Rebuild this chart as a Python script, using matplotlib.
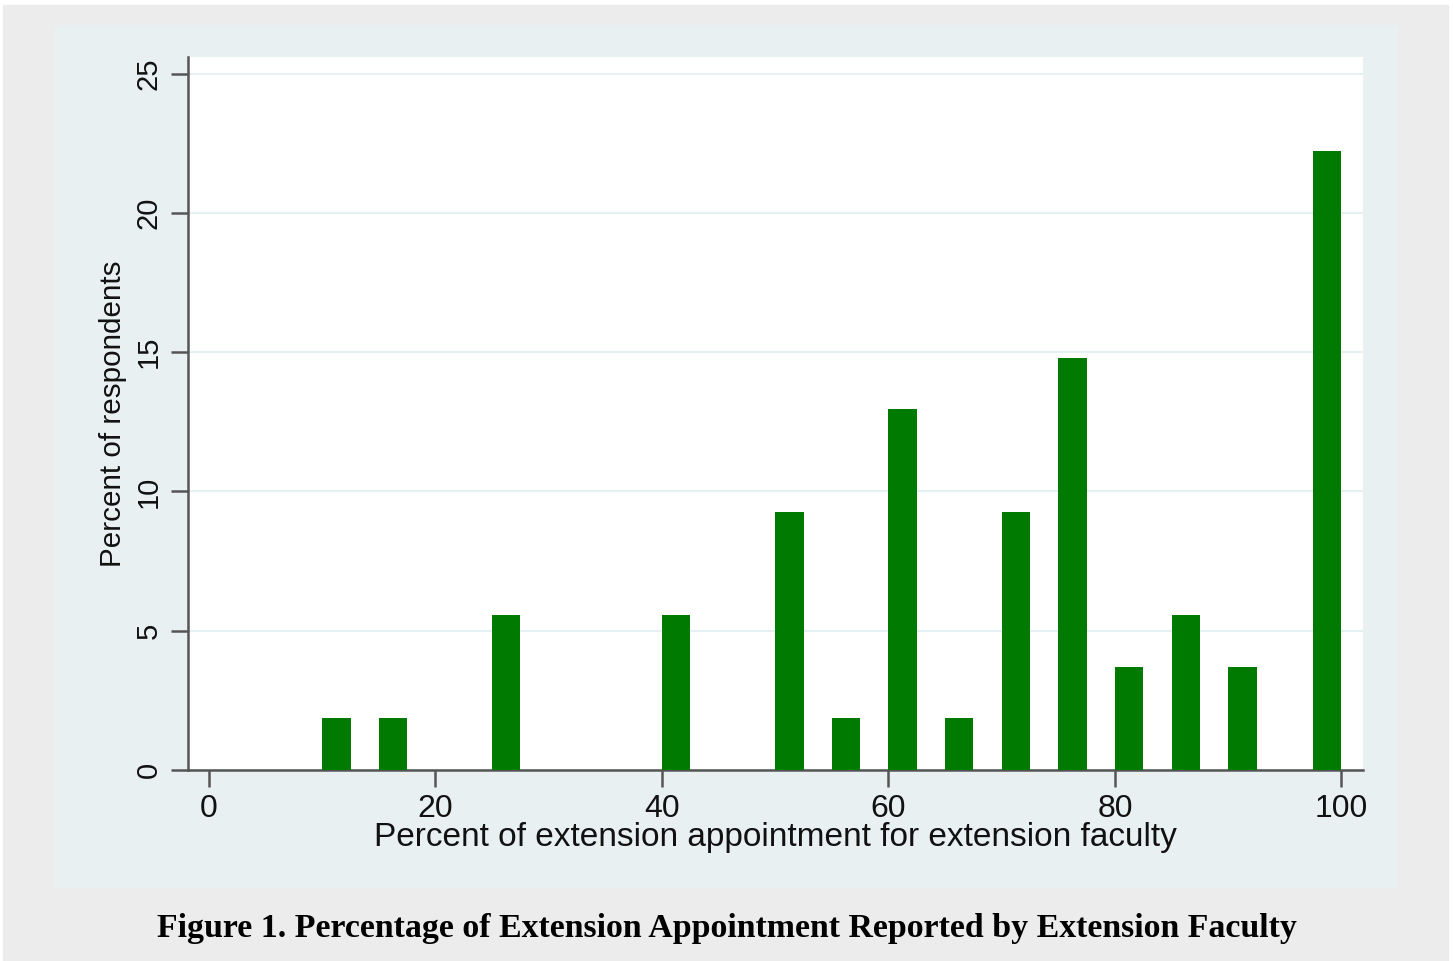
import matplotlib.pyplot as plt
from matplotlib.patches import Rectangle

# bin left edges (width 2.5) and percent of respondents
bin_left = [10, 15, 25, 40, 50, 55, 60, 65, 70, 75, 80, 85, 90, 97.5]
pct = [1.85, 1.85, 5.56, 5.56, 9.26, 1.85, 12.96, 1.85, 9.26, 14.81, 3.70, 5.56, 3.70, 22.22]
x_ticks = [0, 20, 40, 60, 80, 100]
y_ticks = [0, 5, 10, 15, 20, 25]

W, H = 1453, 961
fig = plt.figure(figsize=(W / 100, H / 100), dpi=100)
fig.patch.set_facecolor('white')

# page background and stata-like graph region
fig.patches.append(Rectangle((3 / W, 0), (1448 - 3) / W, (961 - 5) / H,
                             transform=fig.transFigure, color='#ececec', zorder=-2))
fig.patches.append(Rectangle((55 / W, (H - 887) / H), (1398 - 55) / W, (887 - 25) / H,
                             transform=fig.transFigure, color='#e8f0f2', zorder=-1))

ax = fig.add_axes([188 / W, (H - 770) / H, (1363 - 188) / W, (770 - 57) / H])
ax.set_facecolor('white')

ax.bar(bin_left, pct, width=2.5, align='edge', color='#007a00', zorder=3)

ax.set_xlim(-1.85, 101.9)
ax.set_ylim(0, 25.6)
ax.set_xticks(x_ticks)
ax.set_yticks(y_ticks)
ax.grid(axis='y', color='#e6eff1', linewidth=1.5, zorder=0)

for s in ['top', 'right']:
    ax.spines[s].set_visible(False)
for s in ['left', 'bottom']:
    ax.spines[s].set_color('#555555')
    ax.spines[s].set_linewidth(1.8)
ax.tick_params(axis='both', direction='out', length=12, width=1.8, color='#555555',
               labelcolor='#111111')
ax.tick_params(axis='x', labelsize=23, pad=5)
ax.tick_params(axis='y', labelsize=21, pad=6)
for lab in ax.get_yticklabels():
    lab.set_rotation(90)
    lab.set_va('center')

ax.set_xlabel('Percent of extension appointment for extension faculty',
              fontsize=24, family='Liberation Sans', color='#111111', labelpad=-1)
ax.set_ylabel('Percent of respondents', fontsize=21.3, family='Liberation Sans',
              color='#111111', labelpad=6)
for lab in ax.get_xticklabels() + ax.get_yticklabels():
    lab.set_family('Liberation Sans')

fig.text(727 / W, 1 - 928 / H,
         'Figure 1. Percentage of Extension Appointment Reported by Extension Faculty',
         ha='center', va='center', fontsize=24.4, fontweight='bold',
         family='Liberation Serif', color='black')

fig.savefig('out.png', dpi=100)
